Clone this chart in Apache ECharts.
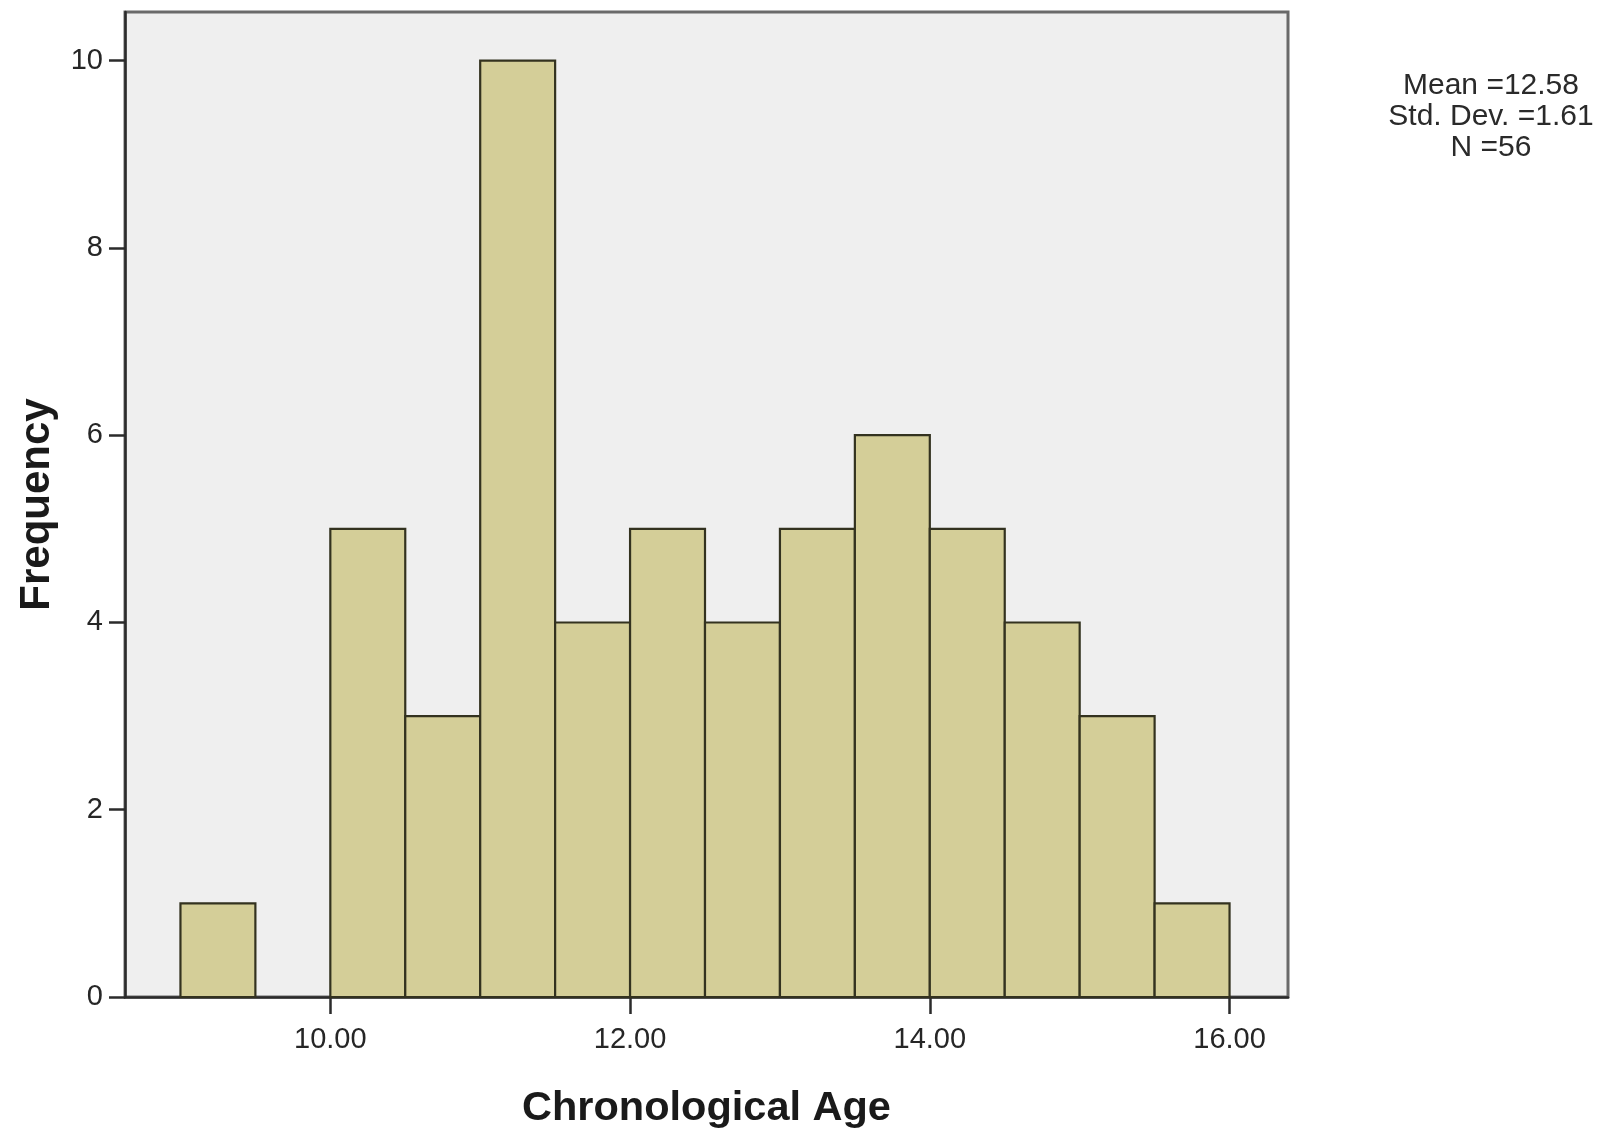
<!DOCTYPE html>
<html>
<head>
<meta charset="utf-8">
<script src="https://cdn.jsdelivr.net/npm/echarts@6/dist/echarts.min.js"></script>
<style>
html,body{margin:0;padding:0;background:#fff;}
#chart{width:1606px;height:1130px;}
</style>
</head>
<body>
<div id="chart"></div>
<script>
// Histogram bins (lower edge), bin width and frequencies
const binStarts = [9.0, 9.5, 10.0, 10.5, 11.0, 11.5, 12.0, 12.5, 13.0, 13.5, 14.0, 14.5, 15.0, 15.5];
const binWidth = 0.5;
const counts = [1, 0, 5, 3, 10, 4, 5, 4, 5, 6, 5, 4, 3, 1];
const xTicks = [10, 12, 14, 16];
const yTicks = [0, 2, 4, 6, 8, 10];
const statsLines = ['Mean =12.58', 'Std. Dev. =1.61', 'N =56'];
const xTitle = 'Chronological Age';
const yTitle = 'Frequency';

const data = binStarts.map((s, i) => [s, s + binWidth, counts[i]]).filter(d => d[2] > 0);

const chart = echarts.init(document.getElementById('chart'), null, {renderer: 'canvas'});
const font = 'Liberation Sans, Arial, sans-serif';

chart.setOption({
  animation: false,
  backgroundColor: '#ffffff',
  grid: {
    left: 125, top: 12, right: 318, bottom: 133,
    containLabel: false,
    outerBoundsMode: 'none',
    show: true,
    backgroundColor: '#efefef',
    borderColor: '#6a6a6a',
    borderWidth: 3
  },
  xAxis: {
    type: 'value',
    min: 8.63, max: 16.39,
    name: xTitle,
    nameLocation: 'middle',
    nameGap: 91,
    nameTextStyle: {fontFamily: font, fontSize: 41.5, fontWeight: 'bold', color: '#1a1a1a'},
    axisLine: {show: true, onZero: false, lineStyle: {color: '#2b2b2b', width: 2.5}},
    axisTick: {show: true, length: 17, customValues: xTicks, lineStyle: {color: '#2b2b2b', width: 2.5}},
    axisLabel: {customValues: xTicks, margin: 28, fontFamily: font, fontSize: 29, color: '#262626',
      formatter: v => v.toFixed(2)},
    splitLine: {show: false}
  },
  yAxis: {
    type: 'value',
    min: 0, max: 10.52,
    name: yTitle,
    nameLocation: 'middle',
    nameGap: 67,
    nameTextStyle: {fontFamily: font, fontSize: 42, fontWeight: 'bold', color: '#1a1a1a'},
    axisLine: {show: true, lineStyle: {color: '#2b2b2b', width: 2.5}},
    axisTick: {show: true, length: 16, customValues: yTicks, lineStyle: {color: '#2b2b2b', width: 2.5}},
    axisLabel: {customValues: yTicks, margin: 22, fontFamily: font, fontSize: 29, color: '#262626'},
    splitLine: {show: false}
  },
  graphic: [{
    type: 'text',
    x: 1491, y: 70,
    style: {
      text: statsLines.join('\n'),
      align: 'center',
      verticalAlign: 'top',
      fontFamily: font,
      fontSize: 30,
      lineHeight: 31,
      fill: '#2a2a2a'
    }
  }],
  series: [{
    type: 'custom',
    data: data,
    encode: {x: [0, 1], y: 2},
    renderItem: function (params, api) {
      const p0 = api.coord([api.value(0), 0]);
      const p1 = api.coord([api.value(1), api.value(2)]);
      return {
        type: 'rect',
        shape: {x: p0[0], y: p1[1], width: p1[0] - p0[0], height: p0[1] - p1[1]},
        style: {fill: '#d4ce98', stroke: '#33321f', lineWidth: 2.2}
      };
    }
  }]
});
</script>
</body>
</html>
